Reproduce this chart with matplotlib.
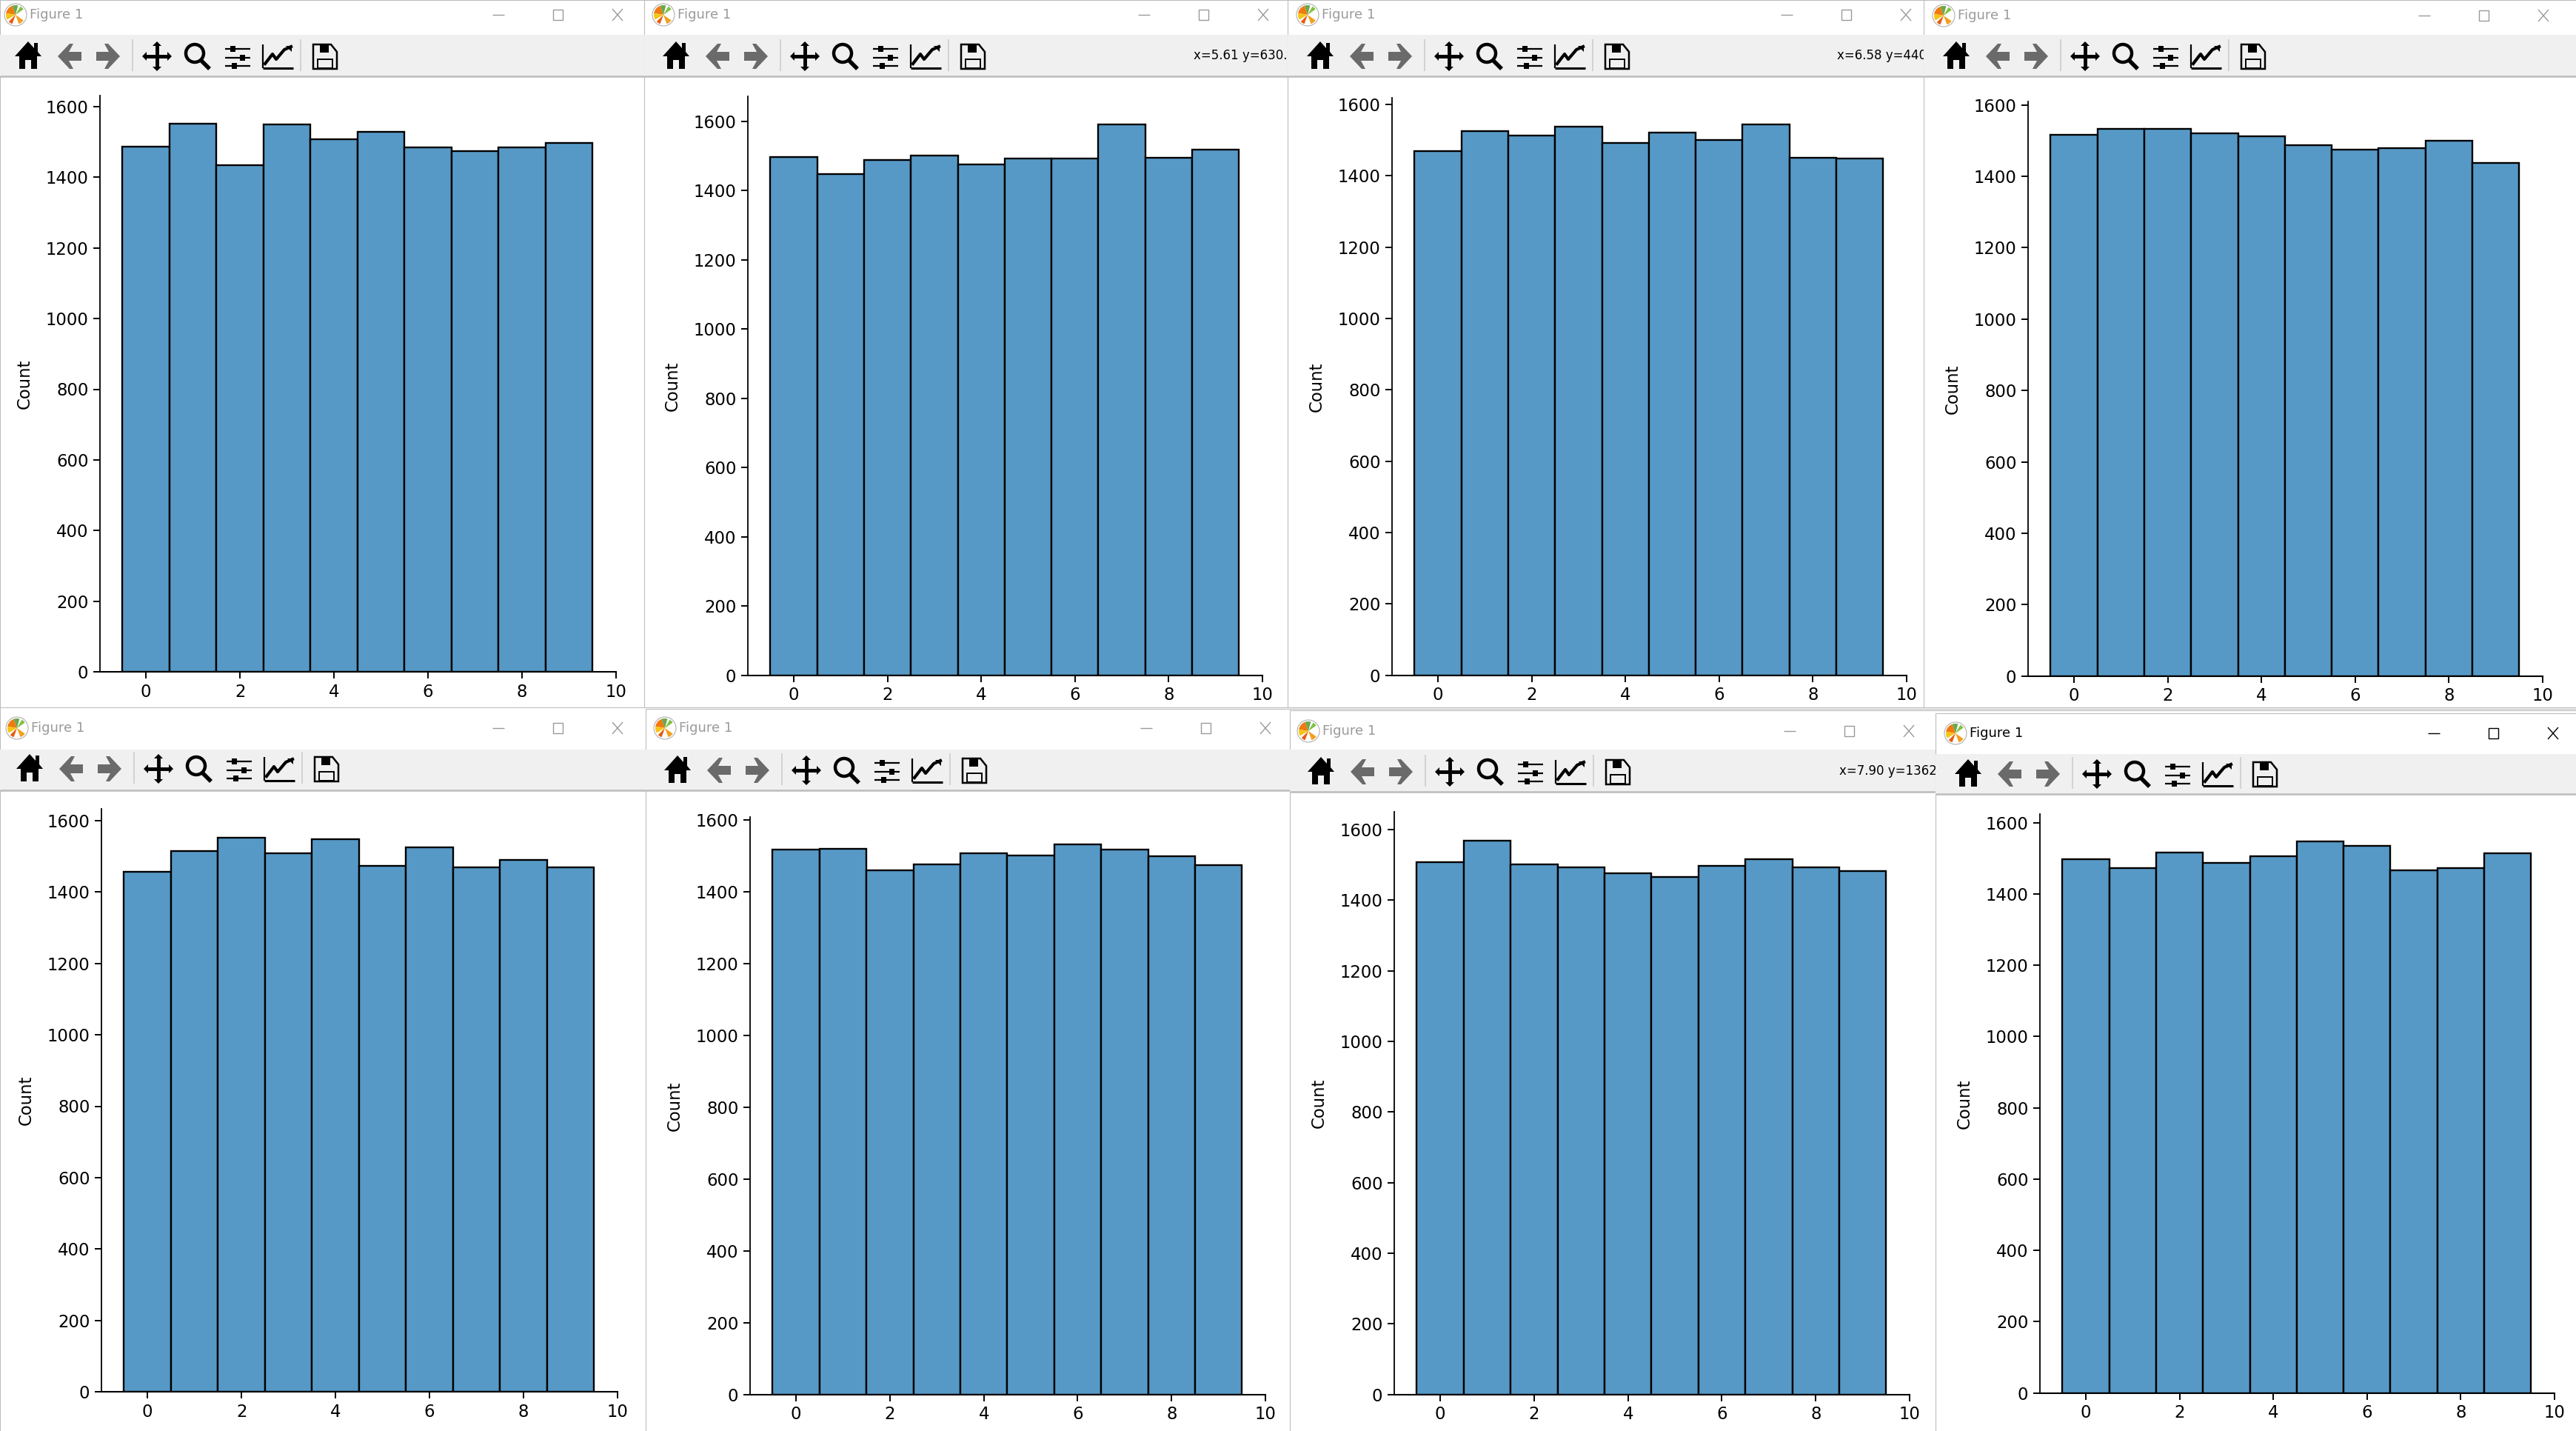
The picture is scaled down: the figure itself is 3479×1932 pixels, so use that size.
import numpy as np
import matplotlib
matplotlib.use('Agg')
import matplotlib.pyplot as plt
from matplotlib.patches import Rectangle, Polygon, Circle, Wedge

W, H = 3479, 1932
BAR_COLOR = '#5799c6'

bins = np.arange(10)

counts_1 = [1486, 1552, 1435, 1550, 1507, 1529, 1485, 1475, 1485, 1498]
counts_2 = [1497, 1447, 1488, 1501, 1475, 1492, 1492, 1591, 1494, 1518]
counts_3 = [1469, 1525, 1513, 1538, 1493, 1522, 1501, 1543, 1450, 1448]
counts_4 = [1517, 1533, 1533, 1521, 1513, 1487, 1475, 1479, 1500, 1438]
counts_5 = [1456, 1515, 1553, 1508, 1549, 1473, 1525, 1469, 1491, 1469]
counts_6 = [1517, 1519, 1460, 1476, 1507, 1501, 1532, 1516, 1499, 1474]
counts_7 = [1508, 1569, 1502, 1494, 1476, 1465, 1497, 1517, 1492, 1483]
counts_8 = [1497, 1472, 1516, 1488, 1506, 1547, 1535, 1467, 1472, 1515]
all_counts = [counts_1, counts_2, counts_3, counts_4,
              counts_5, counts_6, counts_7, counts_8]

y_ticks = [0, 200, 400, 600, 800, 1000, 1200, 1400, 1600]
x_ticks = [0, 2, 4, 6, 8, 10]

# pixel layout of each plot: spine x, x=10 x, y=0 y, y=1600 y, spine top y
panels = [
    (135, 832, 907, 144, 129),
    (1010, 1705, 911.7, 163.7, 130),
    (1880, 2575, 911.7, 141, 132),
    (2739, 3434, 912.7, 141.7, 137),
    (137, 834, 1879, 1108, 1092),
    (1013, 1709, 1882.7, 1106.7, 1103),
    (1883, 2579, 1882.7, 1120, 1096),
    (2755, 3450, 1880.7, 1110.7, 1099),
]

# window chrome: left, top, title y, toolbar top, toolbar bottom, icon y, icon x offset, controls x, active
windows = [
    (0, 0, 20, 47, 103, 76, 0, 870, False),
    (870, 0, 20, 47, 103, 76, 875, 1742, False),
    (1739, 0, 20, 47, 103, 76, 1745, 2610, False),
    (2598, 0, 21, 47, 103, 76, 2604, 3471, False),
    (0, 955, 983, 1012, 1067, 1038, 2, 870, False),
    (872, 957, 983, 1012, 1067, 1040, 877, 1745, False),
    (1742, 959, 987, 1012, 1069, 1042, 1746, 2614, False),
    (2614, 963, 990, 1018, 1072, 1045, 2620, 3484, True),
]
readouts = {1: 'x=5.61 y=630.', 2: 'x=6.58 y=440.', 6: 'x=7.90 y=1362.'}

fig = plt.figure(figsize=(W / 100, H / 100), dpi=100, facecolor='white')
bg = fig.add_axes([0, 0, 1, 1], zorder=0)
bg.set_xlim(0, W)
bg.set_ylim(H, 0)
bg.axis('off')


def poly(pts, x, y, color='black', z=1):
    bg.add_patch(Polygon([(x + a, y + b) for a, b in pts], closed=True, fc=color, ec='none', zorder=z))


def seg(x0, y0, x1, y1, color='black', lw=2.0, z=1):
    bg.plot([x0, x1], [y0, y1], color=color, lw=lw, zorder=z, solid_capstyle='butt')


def draw_logo(x, y, z):
    bg.add_patch(Circle((x, y), 15, fc='white', ec='#b0b0b0', lw=0.8, zorder=z))
    for a, b, c in [(190, 250, '#f07a10'), (110, 135, '#e85a10'), (35, 70, '#f2a020'),
                    (300, 325, '#7fc241'), (250, 285, '#6aa84f'), (150, 190, '#f5c518')]:
        bg.add_patch(Wedge((x, y), 13, a, b, fc=c, ec='none', zorder=z))


def draw_icons(ox, y, z):
    grey = '#6a6a6a'
    # home
    poly([(-18, 0), (0, -20), (8, -11), (8, -18), (13, -18), (13, -6), (18, 0), (12, 0), (12, 17),
          (4, 17), (4, 5), (-4, 5), (-4, 17), (-12, 17), (-12, 0)], ox + 38, y, z=z)
    # back / forward
    arrow = [(-16, 0), (0, -17), (5, -17), (-1, -6), (16, -6), (16, 6), (-1, 6), (5, 17), (0, 17)]
    poly(arrow, ox + 94, y, grey, z)
    poly([(-a, b) for a, b in arrow], ox + 146, y, grey, z)
    seg(ox + 179, y - 23, ox + 179, y + 20, '#cccccc', 1.2, z)
    # move
    cx = ox + 212
    seg(cx - 16, y, cx + 16, y, lw=3.5, z=z)
    seg(cx, y - 16, cx, y + 16, lw=3.5, z=z)
    poly([(-6, -14), (0, -20), (6, -14)], cx, y, z=z)
    poly([(-6, 14), (0, 20), (6, 14)], cx, y, z=z)
    poly([(-14, -6), (-20, 0), (-14, 6)], cx, y, z=z)
    poly([(14, -6), (20, 0), (14, 6)], cx, y, z=z)
    # zoom
    bg.add_patch(Circle((ox + 263, y - 4), 12, fc='none', ec='black', lw=3.2, zorder=z))
    seg(ox + 271, y + 5, ox + 283, y + 17, lw=4, z=z)
    # subplots config
    for dy, kx in [(-10, 314), (2, 327), (13, 316)]:
        seg(ox + 304, y + dy, ox + 338, y + dy, lw=1.6, z=z)
        bg.add_patch(Rectangle((ox + kx - 3, y + dy - 4), 7, 8, fc='black', zorder=z))
    # edit axes
    seg(ox + 355, y - 16, ox + 355, y + 16, lw=1.6, z=z)
    seg(ox + 355, y + 16, ox + 396, y + 16, lw=2.2, z=z)
    bg.plot([ox + 358, ox + 368, ox + 373, ox + 384, ox + 393], [y + 10, y - 3, y + 4, y - 9, y - 13],
            color='black', lw=3, zorder=z)
    poly([(31, -14), (39, -14), (39, -6)], ox + 355, y, z=z)
    seg(ox + 406, y - 23, ox + 406, y + 20, '#cccccc', 1.2, z)
    # save
    sx = ox + 439
    bg.add_patch(Polygon([(sx - 16, y - 16), (sx + 8, y - 16), (sx + 16, y - 6), (sx + 16, y + 17), (sx - 16, y + 17)],
                         closed=True, fc='none', ec='black', lw=1.8, zorder=z))
    bg.add_patch(Rectangle((sx - 7, y - 16), 12, 11, fc='black', zorder=z))
    bg.add_patch(Rectangle((sx - 10, y + 4), 20, 12, fc='none', ec='black', lw=1.4, zorder=z))


for i, (left, top, ty, bar_top, bar_bot, iy, ox, cx, active) in enumerate(windows):
    z = 2 * i + 1
    right = W + 20
    bg.add_patch(Rectangle((left, top), right - left, H - top + 20, fc='white', ec='#bdbdbd', lw=0.8, zorder=z))
    bg.add_patch(Rectangle((left, bar_top), right - left, bar_bot - bar_top, fc='#f0f0f0', ec='none', zorder=z))
    seg(left, bar_bot, right, bar_bot, '#bcbcbc', 1.8, z)
    c = 'black' if active else '#9a9a9a'
    draw_logo(ox + 21, ty, z + 0.5)
    bg.text(ox + 40, ty, 'Figure 1', color=c, fontsize=13, va='center', ha='left', zorder=z + 0.5)
    seg(cx - 205, ty, cx - 189, ty, c, 1.0, z + 0.5)
    bg.add_patch(Rectangle((cx - 123, ty - 7), 13, 14, fc='none', ec=c, lw=1.0, zorder=z + 0.5))
    seg(cx - 43, ty - 8, cx - 29, ty + 8, c, 1.0, z + 0.5)
    seg(cx - 43, ty + 8, cx - 29, ty - 8, c, 1.0, z + 0.5)
    draw_icons(ox, iy, z + 0.5)
    if i in readouts:
        bg.text(left + 742, iy - 1, readouts[i], fontsize=12, va='center', ha='left', zorder=z + 0.5)

for counts, (sx, x10, y0, y16, ytop) in zip(all_counts, panels):
    ax = fig.add_axes([sx / W, 1 - y0 / H, (x10 - sx) / W, (y0 - ytop) / H], zorder=50)
    ax.patch.set_alpha(0)
    ax.bar(bins, counts, width=1, color=BAR_COLOR, edgecolor='black', linewidth=1.7)
    unit = (x10 - sx) / 10.98
    ax.set_xlim(10 - (x10 - sx) / unit, 10)
    ax.set_ylim(0, (y0 - ytop) * 1600 / (y0 - y16))
    ax.set_xticks(x_ticks)
    ax.set_yticks(y_ticks)
    ax.tick_params(labelsize=16.4, width=1.4, length=6.2, pad=5)
    ax.spines['top'].set_visible(False)
    ax.spines['right'].set_visible(False)
    ax.spines['left'].set_linewidth(1.3)
    ax.spines['bottom'].set_linewidth(1.5)
    ax.set_ylabel('Count', fontsize=16.4)
    ax.yaxis.set_label_coords(-90 / (x10 - sx), 0.5)

fig.savefig('out.png', dpi=100)
